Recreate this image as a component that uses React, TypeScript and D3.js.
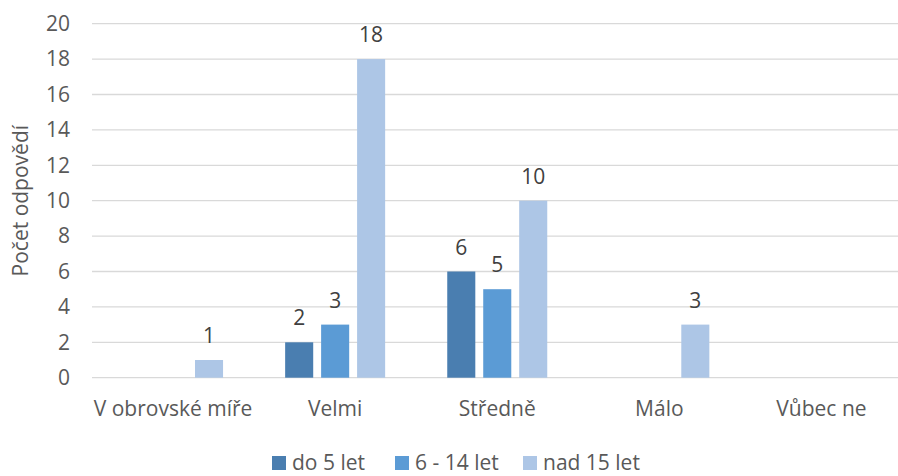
import React from "react";
import * as d3 from "d3";

const categories = ["V obrovské míře", "Velmi", "Středně", "Málo", "Vůbec ne"];
const seriesNames = ["do 5 let", "6 - 14 let", "nad 15 let"];
const do5 = [0, 2, 6, 0, 0];
const od6do14 = [0, 3, 5, 0, 0];
const nad15 = [1, 18, 10, 3, 0];
const yTicks = [0, 2, 4, 6, 8, 10, 12, 14, 16, 18, 20];
const colors = ["#4A7EB0", "#5B9BD5", "#ADC6E6"];

const W = 898;
const H = 476;
const FONT = "'Open Sans', sans-serif";
const FS = 21;

export default function App() {
  const series = [do5, od6do14, nad15];
  const x = d3.scaleBand<string>().domain(categories).range([92, 902.5]).paddingInner(0).paddingOuter(0);
  const inner = d3.scaleBand<number>().domain([0, 1, 2]).range([0, 100]).paddingInner(0.22).paddingOuter(0);
  const y = d3.scaleLinear().domain([0, 20]).range([377.7, 23.7]);
  const groupOffset = (x.bandwidth() - 100) / 2;
  const legendX = [272, 395, 523];

  return (
    <svg width={W} height={H} style={{ position: "absolute", left: 0, top: 0, background: "#fff" }} fontFamily={FONT}>
      {yTicks.map((t) => (
        <g key={t}>
          <line x1={92} x2={W} y1={y(t)} y2={y(t)} stroke="#D9D9D9" strokeWidth={1.3} />
          <text x={70} y={y(t)} dy="0.35em" textAnchor="end" fontSize={FS} fill="#595959">{t}</text>
        </g>
      ))}
      {categories.map((c, ci) => (
        <g key={c}>
          {series.map((s, si) =>
            s[ci] > 0 ? (
              <g key={si}>
                <rect
                  x={(x(c) ?? 0) + groupOffset + (inner(si) ?? 0)}
                  y={y(s[ci])}
                  width={inner.bandwidth()}
                  height={y(0) - y(s[ci])}
                  fill={colors[si]}
                />
                <text
                  x={(x(c) ?? 0) + groupOffset + (inner(si) ?? 0) + inner.bandwidth() / 2}
                  y={y(s[ci]) - 17}
                  textAnchor="middle"
                  fontSize={FS}
                  fill="#404040"
                >{s[ci]}</text>
              </g>
            ) : null
          )}
          <text x={(x(c) ?? 0) + x.bandwidth() / 2} y={416} textAnchor="middle" fontSize={FS} fill="#595959">{c}</text>
        </g>
      ))}
      <text transform={`translate(28,${y(10)}) rotate(-90)`} textAnchor="middle" fontSize={FS} fill="#595959">Počet odpovědí</text>
      {seriesNames.map((n, i) => (
        <g key={n}>
          <rect x={legendX[i]} y={456} width={14} height={14} fill={colors[i]} />
          <text x={legendX[i] + 20} y={470} fontSize={FS} fill="#595959">{n}</text>
        </g>
      ))}
    </svg>
  );
}
